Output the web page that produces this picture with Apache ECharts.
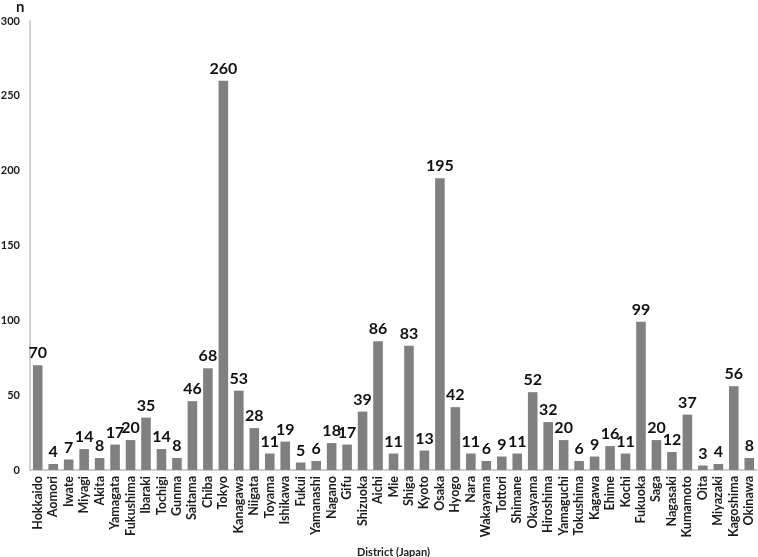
<!DOCTYPE html>
<html>
<head>
<meta charset="utf-8">
<script src="https://cdn.jsdelivr.net/npm/echarts@6/dist/echarts.min.js"></script>
<style>
  html, body { margin: 0; padding: 0; background: #fff; }
  #chart { width: 758px; height: 557px; }
</style>
</head>
<body>
<div id="chart"></div>
<script>
var districts = ['Hokkaido', 'Aomori', 'Iwate', 'Miyagi', 'Akita', 'Yamagata', 'Fukushima', 'Ibaraki',
  'Tochigi', 'Gunma', 'Saitama', 'Chiba', 'Tokyo', 'Kanagawa', 'Niigata', 'Toyama', 'Ishikawa',
  'Fukui', 'Yamanashi', 'Nagano', 'Gifu', 'Shizuoka', 'Aichi', 'Mie', 'Shiga', 'Kyoto', 'Osaka',
  'Hyogo', 'Nara', 'Wakayama', 'Tottori', 'Shimane', 'Okayama', 'Hiroshima', 'Yamaguchi',
  'Tokushima', 'Kagawa', 'Ehime', 'Kochi', 'Fukuoka', 'Saga', 'Nagasaki', 'Kumamoto', 'Oita',
  'Miyazaki', 'Kagoshima', 'Okinawa'];

var counts = [70, 4, 7, 14, 8, 17, 20, 35,
  14, 8, 46, 68, 260, 53, 28, 11, 19,
  5, 6, 18, 17, 39, 86, 11, 83, 13, 195,
  42, 11, 6, 9, 11, 52, 32, 20,
  6, 9, 16, 11, 99, 20, 12, 37, 3,
  4, 56, 8];

var yMin = 0;
var yMax = 300;
var yStep = 50;

var font = 'Lato, "Open Sans", sans-serif';
var myChart = echarts.init(document.getElementById('chart'));

var option = {
  animation: false,
  backgroundColor: '#ffffff',
  grid: {
    left: 30,
    right: 1,
    top: 21,
    bottom: 87,
    containLabel: false,
    outerBoundsMode: 'none'
  },
  xAxis: {
    type: 'category',
    data: districts,
    name: 'District (Japan)',
    nameLocation: 'middle',
    nameGap: 77,
    nameTextStyle: {
      fontFamily: font,
      fontWeight: 'bold',
      fontSize: 11,
      color: '#222'
    },
    axisLine: { lineStyle: { color: '#bfbfbf', width: 1.5 } },
    axisTick: { show: false },
    axisLabel: {
      interval: 0,
      rotate: 90,
      margin: 6,
      fontFamily: font,
      fontWeight: 'bold',
      fontSize: 12.5,
      color: '#1a1a1a'
    }
  },
  yAxis: {
    type: 'value',
    min: yMin,
    max: yMax,
    interval: yStep,
    name: 'n',
    nameLocation: 'end',
    nameGap: 6,
    nameTextStyle: {
      fontFamily: font,
      fontWeight: 'bold',
      fontSize: 15,
      color: '#1a1a1a',
      align: 'left',
      padding: [0, 0, 0, -14]
    },
    axisLine: { show: true, lineStyle: { color: '#bfbfbf', width: 1.5 } },
    axisTick: { show: false },
    splitLine: { show: false },
    axisLabel: {
      margin: 10,
      fontFamily: font,
      fontWeight: 'bold',
      fontSize: 11,
      color: '#1a1a1a'
    }
  },
  series: [
    {
      name: 'n',
      type: 'bar',
      data: counts,
      barWidth: '62%',
      itemStyle: { color: '#808080' },
      label: {
        show: true,
        position: 'top',
        distance: 4,
        fontFamily: font,
        fontWeight: 'bold',
        fontSize: 16,
        color: '#111'
      }
    }
  ]
};
myChart.setOption(option);
</script>
</body>
</html>
